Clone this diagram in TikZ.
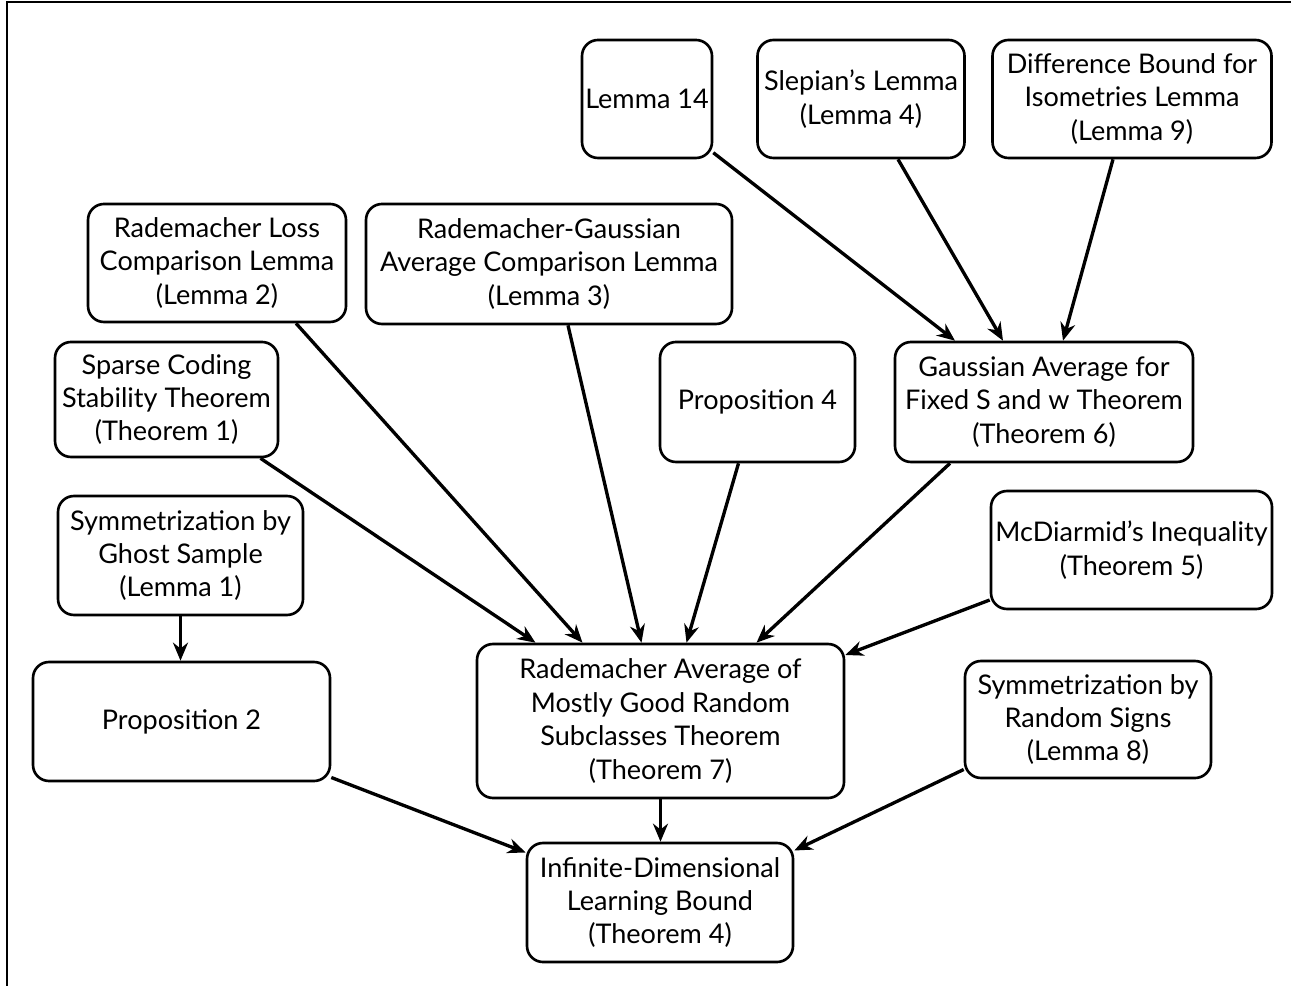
\documentclass[tikz,border=0pt]{standalone}
\usepackage{fontspec}
\setmainfont{Lato}
\usetikzlibrary{positioning, arrows.meta}

\begin{document}
\begin{tikzpicture}[auto, >={Stealth[length=3.6mm, width=3mm]},
  box/.style={draw, rectangle, rounded corners=0.32cm, line width=1.5pt,
    align=center, inner sep=0pt, font=\fontsize{15.4}{19}\selectfont},
  link/.style={->, line width=1.9pt}]
  \useasboundingbox (0,0) rectangle (25.82,-19.72);
  % frame
  \draw [line width=1pt] (0.14,-19.72) -- (0.14,-0.04) -- (25.82,-0.04);

  % Define blocks
  \node [box, minimum width=2.6cm, minimum height=2.36cm] (lem14) at (12.94,-1.98) {Lemma 14};
  \node [box, minimum width=4.14cm, minimum height=2.36cm] (slepian) at (17.22,-1.98) {Slepian's Lemma\\(Lemma 4)};
  \node [box, minimum width=5.58cm, minimum height=2.36cm] (diffbound) at (22.64,-1.98) {Difference Bound for\\Isometries Lemma\\(Lemma 9)};
  \node [box, minimum width=5.16cm, minimum height=2.36cm] (lem2) at (4.34,-5.26) {Rademacher Loss\\Comparison Lemma\\(Lemma 2)};
  \node [box, minimum width=7.32cm, minimum height=2.4cm] (lem3) at (10.98,-5.28) {Rademacher-Gaussian\\Average Comparison Lemma\\(Lemma 3)};
  \node [box, minimum width=4.46cm, minimum height=2.3cm] (thm1) at (3.33,-7.99) {Sparse Coding\\Stability Theorem\\(Theorem 1)};
  \node [box, minimum width=3.9cm, minimum height=2.4cm] (prop4) at (15.15,-8.04) {Proposition 4};
  \node [box, minimum width=5.96cm, minimum height=2.4cm] (thm6) at (20.88,-8.04) {Gaussian Average for\\Fixed S and w Theorem\\(Theorem 6)};
  \node [box, minimum width=4.9cm, minimum height=2.38cm] (lem1) at (3.61,-11.11) {Symmetrization by\\Ghost Sample\\(Lemma 1)};
  \node [box, minimum width=5.62cm, minimum height=2.36cm] (thm5) at (22.63,-11.0) {McDiarmid's Inequality\\(Theorem 5)};
  \node [box, minimum width=5.94cm, minimum height=2.38cm] (prop2) at (3.63,-14.43) {Proposition 2};
  \node [box, minimum width=7.34cm, minimum height=3.08cm] (thm7) at (13.21,-14.42) {Rademacher Average of\\Mostly Good Random\\Subclasses Theorem\\(Theorem 7)};
  \node [box, minimum width=4.92cm, minimum height=2.34cm] (lem8) at (21.76,-14.39) {Symmetrization by\\Random Signs\\(Lemma 8)};
  \node [box, minimum width=5.32cm, minimum height=2.38cm] (thm4) at (13.2,-18.05) {Infinite-Dimensional\\Learning Bound\\(Theorem 4)};

  % Connect blocks
  \draw [link] (lem14.-39) -- ([xshift=-1.78cm]thm6.north);
  \draw [link] ([xshift=0.74cm]slepian.south) -- ([xshift=-0.82cm]thm6.north);
  \draw [link] ([xshift=-0.38cm]diffbound.south) -- ([xshift=0.38cm]thm6.north);
  \draw [link] ([xshift=1.58cm]lem2.south) -- ([xshift=-1.56cm]thm7.north);
  \draw [link] ([xshift=0.38cm]lem3.south) -- ([xshift=-0.38cm]thm7.north);
  \draw [link] ([xshift=1.88cm]thm1.south) -- ([xshift=-2.5cm]thm7.north);
  \draw [link] ([xshift=-0.38cm]prop4.south) -- ([xshift=0.52cm]thm7.north);
  \draw [link] ([xshift=-1.88cm]thm6.south) -- ([xshift=1.92cm]thm7.north);
  \draw [link] ([yshift=-1.0cm]thm5.west) -- ([yshift=1.32cm]thm7.east);
  \draw [link] (lem1.south) -- (lem1.south |- prop2.north);
  \draw [link] ([yshift=-1.12cm]prop2.east) -- ([yshift=1.0cm]thm4.west);
  \draw [link] (thm7.south) -- (thm7.south |- thm4.north);
  \draw [link] ([yshift=-1.0cm]lem8.west) -- ([yshift=1.04cm]thm4.east);
\end{tikzpicture}
\end{document}
